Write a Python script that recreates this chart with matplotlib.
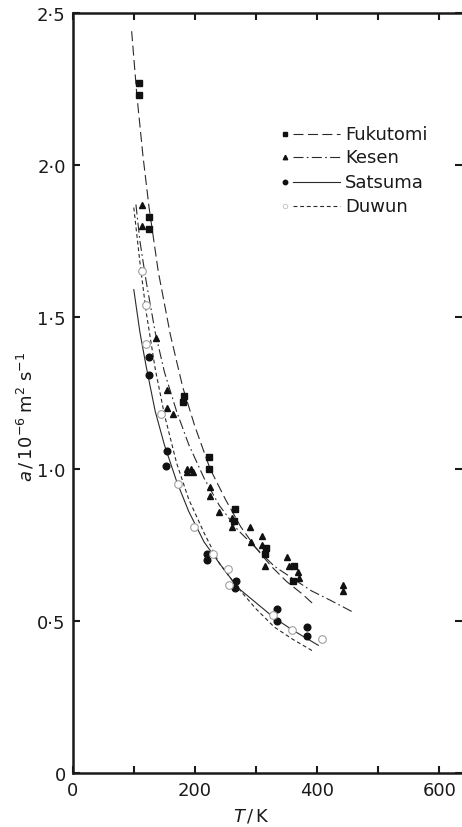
#Thermal diffusivity of four samples vs temperature
import matplotlib.pyplot as plt
import numpy as np

#Measured points (T in K, a in 1e-6 m2/s)
fuku_T = [108.5, 108.5, 125.4, 125.4, 181.6, 180.5, 222.5, 222.5, 265.6, 264.5, 315.8, 314.7, 362.7, 361.0]
fuku_a = [2.27, 2.23, 1.83, 1.79, 1.24, 1.22, 1.04, 1.00, 0.87, 0.83, 0.74, 0.72, 0.68, 0.63]

kesen_T = [113, 114, 135.8, 154.8, 154.8, 164.7, 187.6, 187.6, 193.5, 197.4, 224.7, 224.7, 239.4, 260.2, 260.2,
           290.2, 291.3, 309.3, 310.3, 314.7, 351.2, 354.5, 368.2, 370.9, 442.9, 441.9]
kesen_a = [1.87, 1.80, 1.43, 1.26, 1.20, 1.18, 1.00, 0.99, 1.00, 0.99, 0.94, 0.91, 0.86, 0.84, 0.81,
           0.81, 0.76, 0.78, 0.75, 0.68, 0.71, 0.68, 0.66, 0.64, 0.62, 0.60]

satsuma_T = [124.4, 125.4, 153.8, 153.2, 220.3, 220.3, 266.8, 265.1, 333.9, 334.9, 383, 383]
satsuma_a = [1.37, 1.31, 1.06, 1.01, 0.72, 0.70, 0.63, 0.61, 0.54, 0.50, 0.48, 0.45]

duwun_T = [113.9, 120.5, 120.0, 144, 172.8, 199, 230.2, 254.7, 255.8, 328.3, 359.4, 408.5]
duwun_a = [1.65, 1.54, 1.41, 1.18, 0.95, 0.81, 0.72, 0.67, 0.62, 0.52, 0.47, 0.44]

#Fitted curves
fuku_cT = [96.5, 105, 115, 125, 140, 160, 180, 200, 225, 250, 275, 300, 325, 350, 375, 397]
fuku_ca = [2.44, 2.23, 2.03, 1.86, 1.65, 1.44, 1.27, 1.14, 1.00, 0.90, 0.81, 0.74, 0.68, 0.63, 0.59, 0.55]

kesen_cT = [103.5, 110, 120, 135, 150, 170, 190, 215, 240, 270, 300, 330, 360, 390, 420, 458]
kesen_ca = [1.87, 1.75, 1.62, 1.45, 1.32, 1.19, 1.08, 0.97, 0.88, 0.80, 0.74, 0.68, 0.64, 0.60, 0.57, 0.53]

satsuma_cT = [100, 110, 120, 135, 150, 170, 190, 215, 240, 270, 300, 330, 360, 402]
satsuma_ca = [1.59, 1.45, 1.34, 1.19, 1.08, 0.96, 0.86, 0.76, 0.69, 0.61, 0.56, 0.51, 0.47, 0.42]

duwun_cT = [100, 110, 120, 135, 150, 170, 190, 215, 240, 270, 300, 330, 360, 394]
duwun_ca = [1.86, 1.68, 1.52, 1.33, 1.18, 1.02, 0.90, 0.79, 0.69, 0.61, 0.54, 0.48, 0.44, 0.40]

names = ['Fukutomi', 'Kesen', 'Satsuma', 'Duwun']
yticks = [0, 0.5, 1.0, 1.5, 2.0, 2.5]
ylabels = ['0', '0·5', '1·0', '1·5', '2·0', '2·5']

plt.rcParams['font.family'] = ['DejaVu Sans']
plt.rcParams['mathtext.fontset'] = 'dejavusans'

fig = plt.figure(figsize=(4.62, 8.28), dpi=100)
ax = fig.add_axes([72.7/462, 54/828, 389.5/462, 760/828])

lc = '#2a2a2a'
mk = '#111111'
ls_f = (0, (9, 4))
ls_k = (0, (9, 3, 1.5, 3))
ls_s = '-'
ls_d = (0, (3.5, 2.5))

ax.plot(fuku_cT, fuku_ca, color=lc, lw=0.8, ls=ls_f)
ax.plot(kesen_cT, kesen_ca, color=lc, lw=0.8, ls=ls_k)
ax.plot(satsuma_cT, satsuma_ca, color=lc, lw=0.8, ls=ls_s)
ax.plot(duwun_cT, duwun_ca, color=lc, lw=0.8, ls=ls_d)

ax.plot(fuku_T, fuku_a, 's', color=mk, ms=4.3, ls='none')
ax.plot(kesen_T, kesen_a, '^', color=mk, ms=4.5, ls='none')
ax.plot(satsuma_T, satsuma_a, 'o', color=mk, ms=4.8, ls='none')
ax.plot(duwun_T, duwun_a, 'o', mfc='white', mec='#a0a0a0', mew=0.8, ms=5.5, ls='none')

#hand made legend: marker, short line, name
leg_y = [0.841, 0.810, 0.778, 0.746]
leg_style = [('s', mk, ls_f, 3.2), ('^', mk, ls_k, 3.2), ('o', mk, ls_s, 3.2), ('o', '#c0c0c0', ls_d, 3.2)]
for k in range(0, len(names), 1):
    m, c, ls, s = leg_style[k]
    if k == 3:
        ax.plot([0.545], [leg_y[k]], m, transform=ax.transAxes, mfc='none', mec=c, ms=s, mew=0.6)
    else:
        ax.plot([0.545], [leg_y[k]], m, transform=ax.transAxes, color=c, ms=s)
    ax.plot([0.566, 0.687], [leg_y[k], leg_y[k]], transform=ax.transAxes, color=lc, lw=0.8, ls=ls)
    ax.text(0.70, leg_y[k], names[k], transform=ax.transAxes, fontsize=13, va='center', ha='left', color='#1a1a1a')

ax.set_xlim(0, 637.5)
ax.set_ylim(0, 2.5)
ax.set_xticks([0, 100, 200, 300, 400, 500, 600])
ax.set_xticklabels(['0', '', '200', '', '400', '', '600'])
ax.set_yticks(yticks)
ax.set_yticklabels(ylabels)
ax.tick_params(direction='in', length=5, width=1.5, labelsize=13, pad=6, colors='#1a1a1a',
               top=True, right=True)
ax.tick_params(axis='y', right=True, pad=5)
for side in ['left', 'bottom', 'top']:
    ax.spines[side].set_linewidth(1.8)
    ax.spines[side].set_color('#1a1a1a')
ax.spines['right'].set_visible(False)

ax.set_xlabel(r'$T\,/\,\mathrm{K}$', fontsize=13, color='#1a1a1a')
ax.xaxis.set_label_coords(0.458, -0.044)
ax.set_ylabel(r'$a\,/\,10^{-6}\;\mathrm{m}^{2}\;\mathrm{s}^{-1}$', fontsize=13, color='#1a1a1a')
ax.yaxis.set_label_coords(-0.092, 0.47)

plt.savefig('out.png', dpi=100)
plt.close()
